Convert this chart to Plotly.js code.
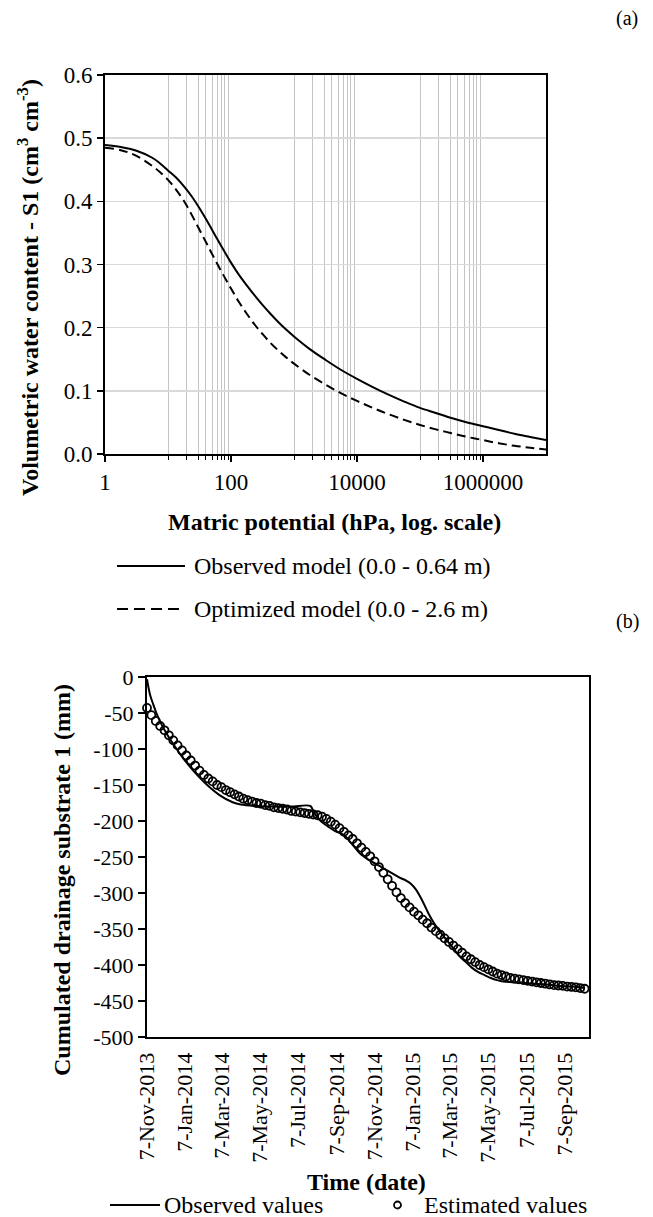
<!DOCTYPE html>
<html><head><meta charset="utf-8">
<script src="https://cdn.plot.ly/plotly-3.0.1.min.js"></script>
<style>
html,body{margin:0;padding:0;background:#fff}
#chart{width:653px;height:1217px}
</style>
</head><body><div id="chart"></div>
<script>
const W = 653, H = 1217;
const px = x => x / W, py = y => 1 - y / H;
const FONT = "Liberation Serif";

// ---------- Panel (a): water retention curves ----------
const matricPotential = [1, 1.78, 3.16, 5.62, 7.5, 10, 13.3, 17.8, 23.7, 31.6, 42.2, 56.2, 75, 100, 133, 178, 237, 316, 422, 562, 750, 1000,
  1780, 3160, 5620, 1e4, 1.78e4, 3.16e4, 5.62e4, 1e5, 1.78e5, 3.16e5, 5.62e5, 1e6, 1.78e6, 3.16e6, 5.62e6, 1e7];
const observedModel = [0.489, 0.486, 0.480, 0.469, 0.460, 0.449, 0.438, 0.424, 0.408, 0.389, 0.368, 0.346, 0.324, 0.303, 0.284, 0.267,
  0.251, 0.236, 0.222, 0.209, 0.197, 0.186, 0.166, 0.149, 0.133, 0.119, 0.106, 0.094, 0.083, 0.073, 0.065, 0.057, 0.050, 0.044, 0.038, 0.032, 0.027, 0.022];
const optimizedModel = [0.485, 0.481, 0.472, 0.456, 0.446, 0.434, 0.419, 0.401, 0.379, 0.355, 0.331, 0.307, 0.284, 0.262, 0.241, 0.222,
  0.205, 0.190, 0.176, 0.164, 0.153, 0.143, 0.125, 0.110, 0.096, 0.084, 0.073, 0.063, 0.054, 0.046, 0.039, 0.033, 0.027, 0.022, 0.017, 0.013, 0.010, 0.007];
const potentialTicks = [1, 100, 10000, 1000000];
const potentialTickText = ["1", "100", "10000", "1000000"];
const potentialMinor = [10,20,30,40,50,60,70,80,90, 1000,2000,3000,4000,5000,6000,7000,8000,9000,
  1e5,2e5,3e5,4e5,5e5,6e5,7e5,8e5,9e5];
const thetaTicks = [0, 0.1, 0.2, 0.3, 0.4, 0.5, 0.6];
const thetaTickText = ["0.0", "0.1", "0.2", "0.3", "0.4", "0.5", "0.6"];

// ---------- Panel (b): cumulated drainage ----------
const startDate = "2013-11-07";
const observedDays = [0, 5, 10, 15, 21, 31, 42, 58, 74, 95, 116, 137, 150, 175, 200, 230, 261, 265, 270, 278, 290, 301, 312, 318, 327,
  343, 359, 375, 391, 405, 415, 422, 430, 440, 450, 460, 470, 480, 490, 500, 510, 520, 530, 540, 550, 560, 570, 585, 600, 620, 640, 660, 680, 700];
const observedValues = [-3, -25, -38, -50, -62, -78, -93, -113, -130, -149, -164, -174, -177, -179, -180, -180, -179, -184, -192, -200, -208, -214, -218, -222, -231,
  -247, -256, -264, -272, -279, -283, -287, -295, -310, -328, -343, -355, -366, -377, -388, -396, -404, -410, -414, -418, -421, -423, -424, -425, -426, -427, -429, -430, -432];
const estimatedStepDays = 7;
const estimatedValues = [
  -43, -53, -61, -68, -74, -81, -88, -95, -102, -109,
  -116, -123, -130, -136, -141, -145, -150, -153, -157, -160,
  -163, -166, -169, -171, -173, -175, -176, -178, -179, -181,
  -182, -183, -184, -186, -187, -188, -189, -190, -191, -192,
  -194, -197, -201, -205, -210, -215, -220, -225, -231, -237,
  -243, -249, -256, -264, -272, -281, -290, -299, -307, -314,
  -320, -326, -331, -337, -342, -348, -353, -358, -363, -368,
  -373, -378, -383, -388, -392, -396, -400, -403, -406, -409,
  -412, -414, -416, -418, -419, -420, -421, -422, -423, -424,
  -425, -426, -427, -428, -428.5, -429, -430, -430.5, -431, -432,
  -433];
const dateTicks = ["2013-11-07", "2014-01-07", "2014-03-07", "2014-05-07", "2014-07-07", "2014-09-07",
  "2014-11-07", "2015-01-07", "2015-03-07", "2015-05-07", "2015-07-07", "2015-09-07"];
const dateTickText = ["7-Nov-2013", "7-Jan-2014", "7-Mar-2014", "7-May-2014", "7-Jul-2014", "7-Sep-2014",
  "7-Nov-2014", "7-Jan-2015", "7-Mar-2015", "7-May-2015", "7-Jul-2015", "7-Sep-2015"];
const drainTicks = [0, -50, -100, -150, -200, -250, -300, -350, -400, -450, -500];
const drainTickText = ["0", "-50", "-100", "-150", "-200", "-250", "-300", "-350", "-400", "-450", "-500"];

function dayToDate(d) {
  const t = new Date(startDate + "T00:00:00Z");
  t.setUTCDate(t.getUTCDate() + d);
  return t.toISOString().slice(0, 10);
}
const observedDates = observedDays.map(dayToDate);
const estimatedDates = estimatedValues.map((_, i) => dayToDate(i * estimatedStepDays));

const traces = [
  {x: matricPotential, y: observedModel, type: "scatter", mode: "lines", xaxis: "x", yaxis: "y",
   line: {color: "#000", width: 2, shape: "spline"}, showlegend: false},
  {x: matricPotential, y: optimizedModel, type: "scatter", mode: "lines", xaxis: "x", yaxis: "y",
   line: {color: "#000", width: 2, dash: "9px,5px", shape: "spline"}, showlegend: false},
  {x: observedDates, y: observedValues, type: "scatter", mode: "lines", xaxis: "x2", yaxis: "y2",
   line: {color: "#000", width: 2, shape: "spline"}, showlegend: false, cliponaxis: false},
  {x: estimatedDates, y: estimatedValues, type: "scatter", mode: "markers", xaxis: "x2", yaxis: "y2",
   marker: {symbol: "circle-open", size: 8, color: "#000", line: {width: 1.8, color: "#000"}},
   showlegend: false, cliponaxis: false}
];

const axisBase = {showline: true, linecolor: "#000", linewidth: 2, mirror: true, zeroline: false,
  tickfont: {family: FONT, size: 23, color: "#000"}, tickcolor: "#000", tickwidth: 1.5, fixedrange: true};
const smallTickFont = {family: FONT, size: 22, color: "#000"};

function note(text, x, y, size, extra) {
  return Object.assign({text: text, x: px(x), y: py(y), xref: "paper", yref: "paper", showarrow: false,
    xanchor: "center", yanchor: "middle", font: {family: FONT, size: size, color: "#000"}}, extra || {});
}

const layout = {
  width: W, height: H, margin: {l: 0, r: 0, t: 0, b: 0},
  paper_bgcolor: "#fff", plot_bgcolor: "#fff", showlegend: false,
  font: {family: FONT, color: "#000"},
  xaxis: Object.assign({}, axisBase, {
    domain: [px(105), px(546)], anchor: "y", type: "log", range: [0, 7],
    tickmode: "array", tickvals: potentialTicks, ticktext: potentialTickText,
    ticks: "outside", ticklen: 6, showgrid: false,
    minor: {tickmode: "array", tickvals: potentialMinor, ticks: "outside", ticklen: 4, tickwidth: 1,
            tickcolor: "#000", showgrid: true, gridcolor: "#c4c4c4", gridwidth: 1}
  }),
  yaxis: Object.assign({}, axisBase, {
    domain: [py(454), py(75)], anchor: "x", range: [0, 0.6],
    tickmode: "array", tickvals: thetaTicks, ticktext: thetaTickText,
    ticks: "outside", ticklen: 6, showgrid: true, gridcolor: "#d9d9d9", gridwidth: 1.5
  }),
  xaxis2: Object.assign({}, axisBase, {
    domain: [px(147), px(589)], anchor: "y2", type: "date", range: ["2013-11-07", "2015-10-15"],
    tickmode: "array", tickvals: dateTicks, ticktext: dateTickText, tickangle: -90,
    ticks: "", showgrid: false, tickfont: smallTickFont, ticklabelstandoff: 5
  }),
  yaxis2: Object.assign({}, axisBase, {
    domain: [py(1037), py(677)], anchor: "x2", range: [-500, 0],
    tickmode: "array", tickvals: drainTicks, ticktext: drainTickText,
    ticks: "outside", ticklen: 7, showgrid: false, tickfont: smallTickFont
  }),
  annotations: [
    note("(a)", 627, 18, 20),
    note("(b)", 627, 621, 20),
    note("<b>Matric potential (hPa, log. scale)</b>", 334, 522, 24),
    note("<b>Volumetric water content - S1 (cm<sup>3</sup> cm<sup>-3</sup>)</b>", 28, 288, 24, {textangle: -90}),
    note("<b>Cumulated drainage substrate 1 (mm)</b>", 62, 880, 24, {textangle: -90}),
    note("<b>Time (date)</b>", 366, 1182, 24),
    note("Observed model (0.0 - 0.64 m)", 192, 566, 24, {xanchor: "left"}),
    note("Optimized model (0.0 - 2.6 m)", 192, 609, 24, {xanchor: "left"}),
    note("Observed values", 162, 1205, 24, {xanchor: "left"}),
    note("Estimated values", 422, 1205, 24, {xanchor: "left"})
  ],
  shapes: [
    {type: "line", xref: "paper", yref: "paper", x0: px(117), x1: px(185), y0: py(566), y1: py(566),
     line: {color: "#000", width: 2}},
    {type: "line", xref: "paper", yref: "paper", x0: px(117), x1: px(182), y0: py(609), y1: py(609),
     line: {color: "#000", width: 2, dash: "11px,6px"}},
    {type: "line", xref: "paper", yref: "paper", x0: px(110), x1: px(160), y0: py(1205), y1: py(1205),
     line: {color: "#000", width: 2}},
    {type: "circle", xref: "paper", yref: "paper", x0: px(394), x1: px(401), y0: py(1201.5), y1: py(1208.5),
     line: {color: "#000", width: 1.8}}
  ]
};

Plotly.newPlot("chart", traces, layout, {staticPlot: true, displayModeBar: false});
</script>
</body></html>
